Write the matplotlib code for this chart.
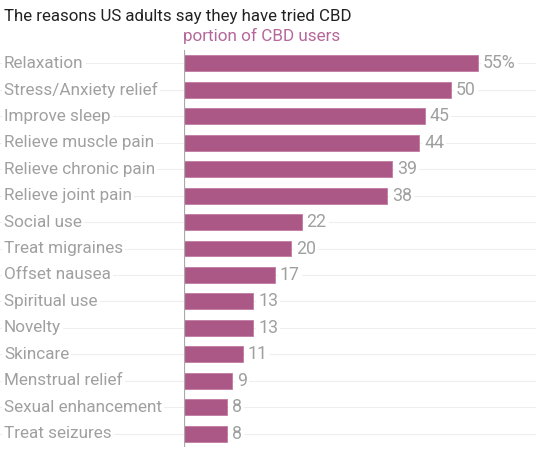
import matplotlib.pyplot as plt
import matplotlib.transforms as mtransforms

reasons = ["Relaxation", "Stress/Anxiety relief", "Improve sleep", "Relieve muscle pain",
           "Relieve chronic pain", "Relieve joint pain", "Social use", "Treat migraines",
           "Offset nausea", "Spiritual use", "Novelty", "Skincare", "Menstrual relief",
           "Sexual enhancement", "Treat seizures"]
values = [55, 50, 45, 44, 39, 38, 22, 20, 17, 13, 13, 11, 9, 8, 8]
value_labels = ["55%", "50", "45", "44", "39", "38", "22", "20", "17", "13", "13", "11", "9", "8", "8"]

bar_color = "#ac5887"
label_gray = "#a0a0a0"

plt.rcParams['font.family'] = ['Roboto', 'DejaVu Sans']

fig = plt.figure(figsize=(5.36, 4.53), dpi=100)
ax = fig.add_axes([184 / 536, 1 - 447 / 453, 352 / 536, 397 / 453])

y = list(range(len(reasons)))
ax.barh(y, values, height=0.6, color=bar_color, edgecolor="#c27aa2", linewidth=0.6, zorder=3)
ax.set_xlim(0, 352 / (294 / 55))
ax.set_ylim(len(reasons) - 0.5, -0.5)

# faint row lines running across the whole figure
trans = mtransforms.blended_transform_factory(fig.transFigure, ax.transData)
for yi in y:
    ax.plot([0, 1], [yi, yi], transform=trans, color="#eeeeee", lw=0.8, zorder=0, clip_on=False)

box = dict(facecolor="white", edgecolor="none", pad=1.5)
for yi, name in zip(y, reasons):
    fig.text(4 / 536, yi, name, transform=trans,
             fontsize=12.3, color=label_gray, va="center", ha="left", bbox=box, zorder=2)
for yi, v, lab in zip(y, values, value_labels):
    ax.text(v + 0.9, yi, lab, fontsize=12.8, color=label_gray, va="center", ha="left",
            bbox=box, zorder=4)

ax.axvline(0, color="#aaaaaa", lw=0.9, zorder=5)
for s in ax.spines.values():
    s.set_visible(False)
ax.set_xticks([])
ax.set_yticks([])
ax.patch.set_alpha(0)

fig.text(4 / 536, 1 - 16 / 453, "The reasons US adults say they have tried CBD",
         fontsize=12.2, color="#222222", va="center", ha="left")
fig.text(183 / 536, 1 - 36 / 453, "portion of CBD users",
         fontsize=12.3, color="#b5679a", va="center", ha="left")

fig.savefig("out.png", dpi=100)
